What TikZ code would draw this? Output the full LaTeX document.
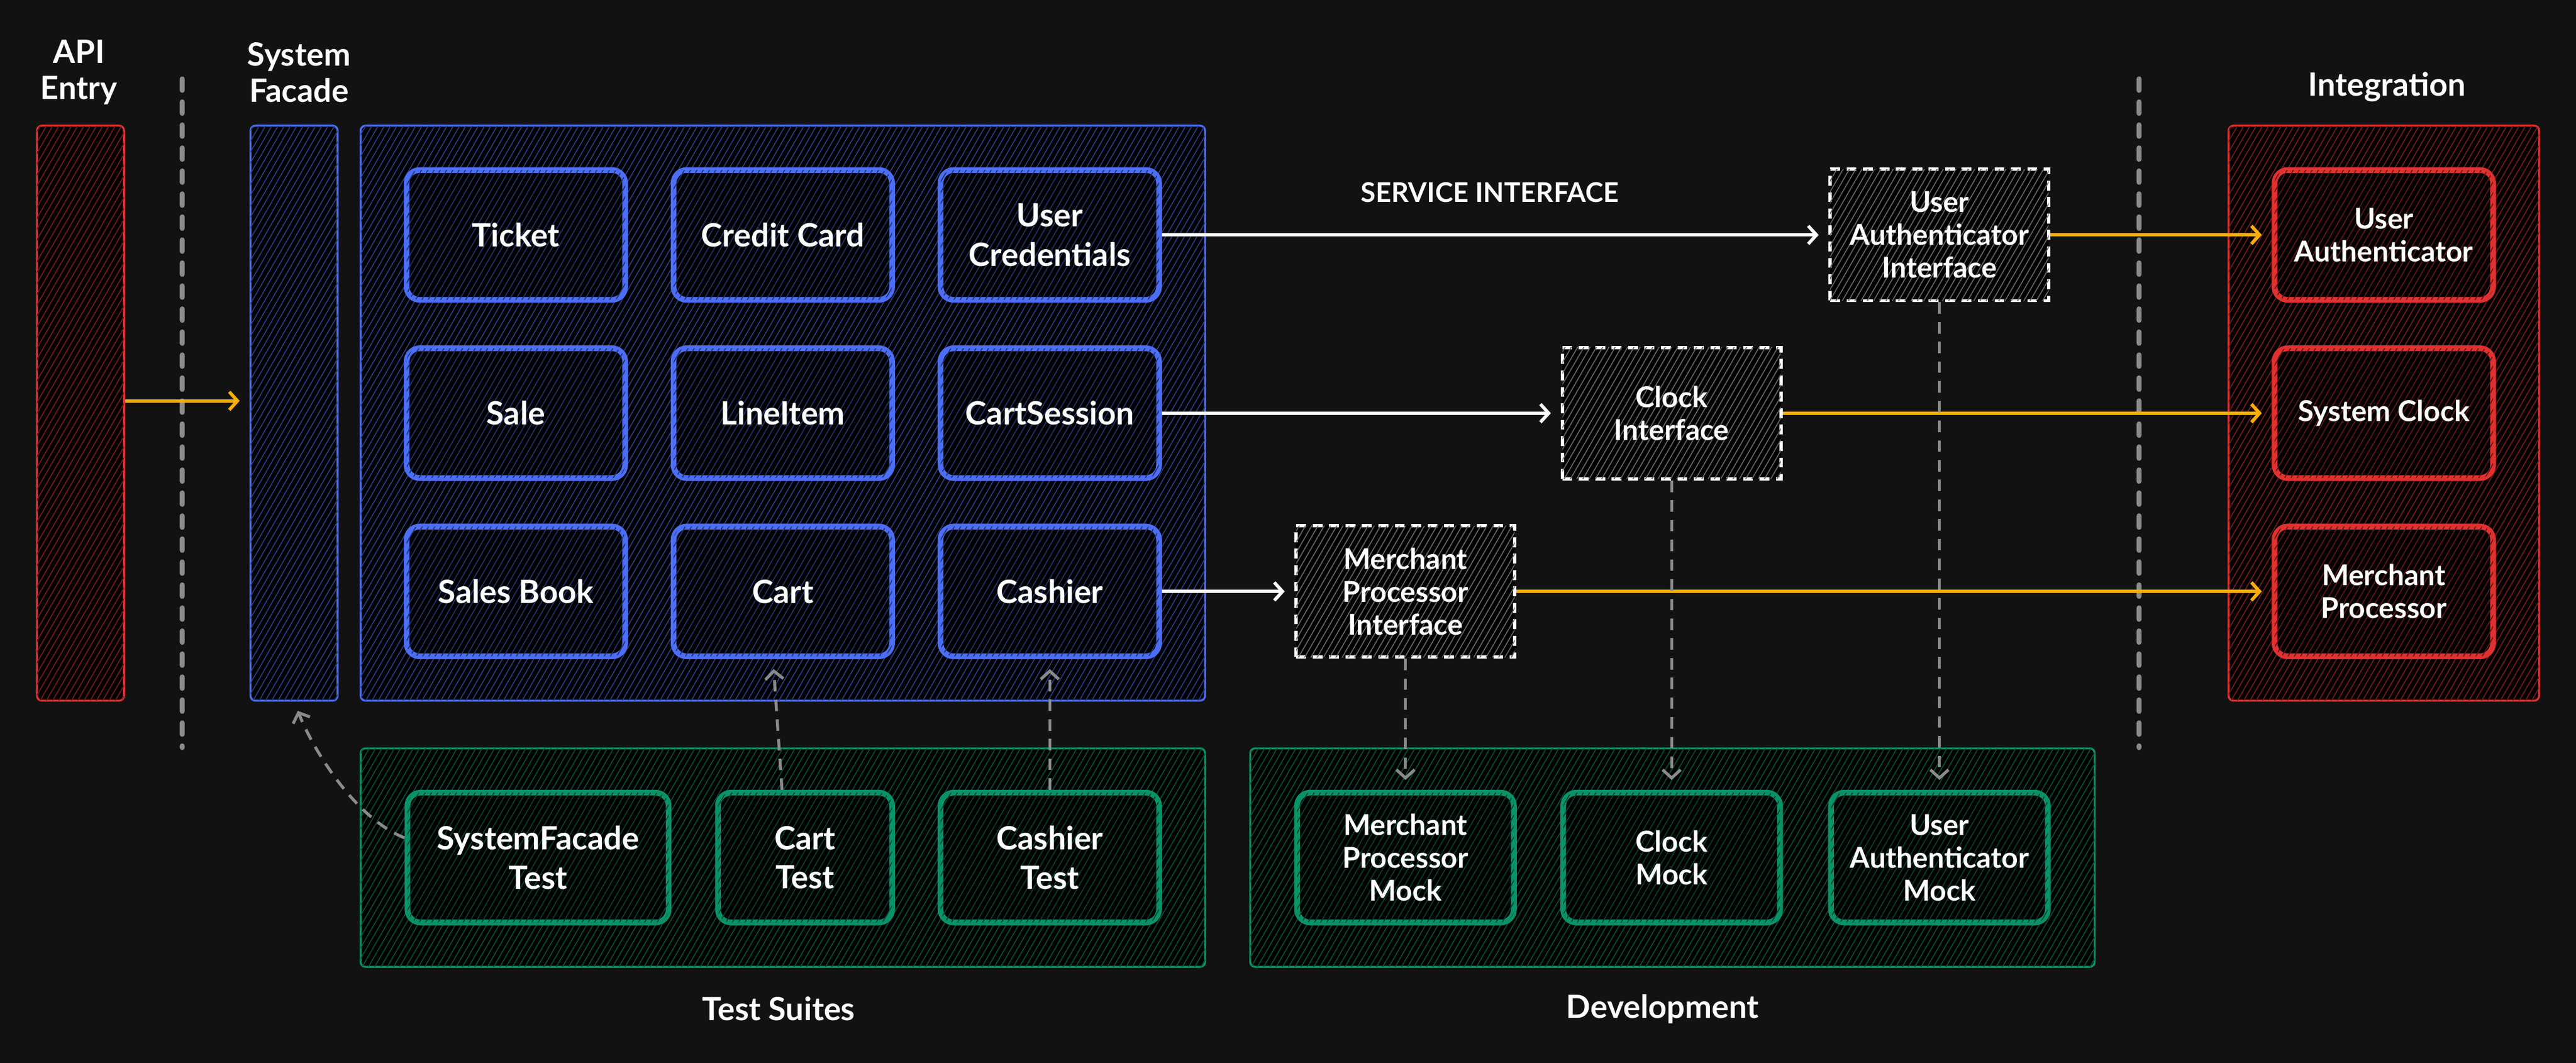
\documentclass[tikz,border=0pt]{standalone}
\usepackage{xcolor}
\usepackage{fontspec}
\setmainfont{Lato}
\usepackage{tikz}
\usetikzlibrary{arrows.meta, patterns.meta}

\definecolor{bgdark}{HTML}{121212}
\definecolor{exblue}{HTML}{4C6EF5}
\definecolor{exred}{HTML}{E03131}
\definecolor{exgreen}{HTML}{099268}
\definecolor{exyellow}{HTML}{FAB005}
\definecolor{exgray}{HTML}{8A8A8A}

\begin{document}
\begin{tikzpicture}[x=1pt, y=-1pt,
        hatch/.style={fill=black, postaction={pattern color=#1, pattern={Lines[angle=60, distance=3.3pt, line width=0.6pt]}}},
        group/.style={draw=#1, line width=1.2pt, rounded corners=3pt, hatch=#1!55!black, inner sep=0pt},
        entity/.style={draw=#1, line width=3.5pt, rounded corners=8pt, hatch=#1!45!black, minimum width=133pt, minimum height=79pt, text=white, align=center, font=\bfseries\fontsize{19.5}{24}\selectfont},
        small/.style={font=\bfseries\fontsize{17.5}{20}\selectfont},
        iface/.style={draw=white, line width=2pt, dash pattern=on 6pt off 4pt, hatch=white!40!black, minimum width=133pt, minimum height=80pt, text=white, align=center, small},
        caption/.style={text=white, align=center, font=\bfseries\fontsize{19.5}{22}\selectfont},
        flow/.style={draw=white, line width=2pt, -{Straight Barb[length=5pt, width=11pt]}, shorten >=6pt},
        feed/.style={flow, draw=exyellow},
        link/.style={draw=exgray, line width=1.8pt, dash pattern=on 7pt off 5pt, -{Straight Barb[length=5pt, width=11pt]}, shorten >=6pt},
        sep/.style={draw=exgray, line width=3pt, line cap=round, dash pattern=on 7pt off 7pt}]
        \useasboundingbox (0, 0) rectangle (1568, 647);
        \fill[bgdark] (0, 0) rectangle (1568, 647);

        \node[caption] at (48, 44) (apilabel) {API\\Entry};
        \node[caption] at (182, 44) (facadelabel) {System\\Facade};
        \node[caption] at (1453, 53) (integlabel) {Integration};
        \node[caption, font=\bfseries\fontsize{16.5}{20}\selectfont] at (907, 117) (servicelabel) {SERVICE INTERFACE};
        \node[caption] at (474, 614) (suiteslabel) {Test Suites};
        \node[caption] at (1012, 614) (devlabel) {Development};

        \draw[sep] (111, 48) -- (111, 455);
        \draw[sep] (1302, 48) -- (1302, 455);

        \node[group=exred, minimum width=53pt, minimum height=350pt] at (49, 251.5) (api) {};
        \node[group=exblue, minimum width=53pt, minimum height=350pt] at (179, 251.5) (facade) {};
        \node[group=exblue, minimum width=514pt, minimum height=350pt] at (476.5, 251.5) (core) {};
        \node[group=exgreen, minimum width=514pt, minimum height=133pt] at (476.5, 522) (suites) {};
        \node[group=exgreen, minimum width=514pt, minimum height=133pt] at (1018, 522) (dev) {};
        \node[group=exred, minimum width=189pt, minimum height=350pt] at (1451, 251.5) (integ) {};

        \node[entity=exblue] at (314, 143) (ticket) {Ticket};
        \node[entity=exblue] at (476.5, 143) (credit) {Credit Card};
        \node[entity=exblue] at (639, 143) (creds) {User\\Credentials};
        \node[entity=exblue] at (314, 251.5) (sale) {Sale};
        \node[entity=exblue] at (476.5, 251.5) (lineitem) {LineItem};
        \node[entity=exblue] at (639, 251.5) (session) {CartSession};
        \node[entity=exblue] at (314, 360) (salesbook) {Sales Book};
        \node[entity=exblue] at (476.5, 360) (cart) {Cart};
        \node[entity=exblue] at (639, 360) (cashier) {Cashier};

        \node[entity=exgreen, minimum width=159pt] at (327.5, 522) (sftest) {SystemFacade\\Test};
        \node[entity=exgreen, minimum width=106pt] at (490, 522) (carttest) {Cart\\Test};
        \node[entity=exgreen] at (639, 522) (cashiertest) {Cashier\\Test};

        \node[entity=exgreen, small, minimum width=132pt] at (855.5, 522) (mpmock) {Merchant\\Processor\\Mock};
        \node[entity=exgreen, small, minimum width=132pt] at (1017.5, 522) (clockmock) {Clock\\Mock};
        \node[entity=exgreen, small, minimum width=132pt] at (1180.5, 522) (uamock) {User\\Authenticator\\Mock};

        \node[iface] at (1180.5, 143) (uaiface) {User\\Authenticator\\Interface};
        \node[iface] at (1017.5, 251.5) (clockiface) {Clock\\Interface};
        \node[iface] at (855.5, 360) (mpiface) {Merchant\\Processor\\Interface};

        \node[entity=exred, small] at (1451, 143) (uauth) {User\\Authenticator};
        \node[entity=exred, small] at (1451, 251.5) (sysclock) {System Clock};
        \node[entity=exred, small] at (1451, 360) (merchant) {Merchant\\Processor};

        \draw[feed] ([yshift=7.5pt]api.east) -- ([yshift=7.5pt]facade.west);
        \draw[flow] (creds.east) -- (uaiface.west);
        \draw[flow] (session.east) -- (clockiface.west);
        \draw[flow] (cashier.east) -- (mpiface.west);
        \draw[feed] (uaiface.east) -- (uauth.west);
        \draw[feed] (clockiface.east) -- (sysclock.west);
        \draw[feed] (mpiface.east) -- (merchant.west);

        \draw[link] (uaiface.south) -- (uamock.north);
        \draw[link] (clockiface.south) -- (clockmock.north);
        \draw[link] (mpiface.south) -- (mpmock.north);
        \draw[link] ([xshift=-14pt]carttest.north) -- ([xshift=-6pt]cart.south);
        \draw[link] (cashiertest.north) -- (cashier.south);
        \draw[link] ([yshift=12pt]sftest.west) .. controls +(-30, -12) and +(12, 30) .. (facade.south);
    \end{tikzpicture}
\end{document}
